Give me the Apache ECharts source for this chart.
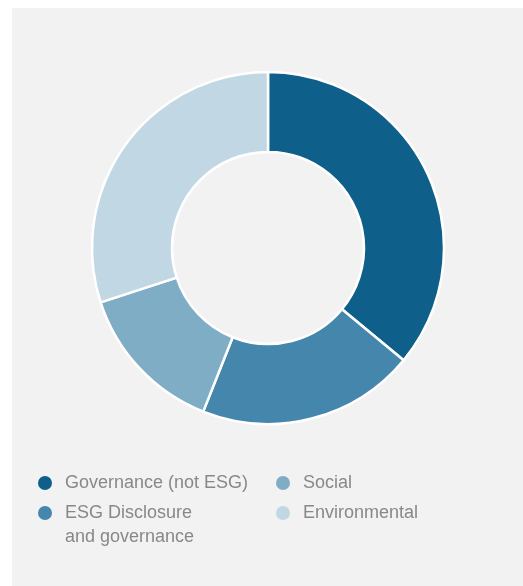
<!DOCTYPE html>
<html>
<head>
<meta charset="utf-8">
<script src="https://cdn.jsdelivr.net/npm/echarts@6/dist/echarts.min.js"></script>
<style>
  html, body { margin: 0; padding: 0; background: #ffffff; }
  #wrap { position: relative; width: 523px; height: 586px; overflow: hidden; }
  #panel { position: absolute; left: 12px; top: 8px; right: 0; bottom: 0; background: #f2f2f2; }
  #chart { position: absolute; left: 0; top: 0; width: 523px; height: 586px; }
</style>
</head>
<body>
<div id="wrap">
  <div id="panel"></div>
  <div id="chart"></div>
</div>
<script>
// Share of proposals by topic (percent)
const categories = [
  'Governance (not ESG)',
  'ESG Disclosure and governance',
  'Social',
  'Environmental'
];
const values = [36, 20, 14, 30];
const colors = ['#0f5f8b', '#4587ac', '#80adc6', '#c1d8e4'];

// Wrapped legend text; the leading blank line keeps the first text line level with the dot
const legendLabels = {
  'ESG Disclosure and governance': '\nESG Disclosure\nand governance'
};

const textColor = '#888888';
const fontFamily = '"Liberation Sans", Arial, Helvetica, sans-serif';
const fontSize = 18;
const lineH = 24;

function legendFor(name, left, dotY, lines) {
  return {
    data: [name],
    left: left,
    top: dotY - lineH * lines / 2,
    orient: 'vertical',
    padding: 0,
    itemWidth: 14,
    itemHeight: 14,
    icon: 'circle',
    selectedMode: false,
    itemStyle: { borderWidth: 0 },
    formatter: n => legendLabels[n] || n,
    textStyle: {
      color: textColor,
      fontFamily: fontFamily,
      fontSize: fontSize,
      lineHeight: lineH,
      padding: [0, 0, 0, 8]
    }
  };
}

const chart = echarts.init(document.getElementById('chart'), null, { renderer: 'canvas' });
chart.setOption({
  backgroundColor: 'transparent',
  animation: false,
  color: colors,
  legend: [
    legendFor(categories[0], 38, 483, 1),
    legendFor(categories[1], 38, 513, 3),
    legendFor(categories[2], 276, 483, 1),
    legendFor(categories[3], 276, 513, 1)
  ],
  series: [{
    type: 'pie',
    center: [268, 248],
    radius: [96, 176],
    startAngle: 90,
    clockwise: true,
    avoidLabelOverlap: false,
    label: { show: false },
    labelLine: { show: false },
    emphasis: { disabled: true },
    itemStyle: { borderColor: '#ffffff', borderWidth: 2.5 },
    data: categories.map((c, i) => ({ name: c, value: values[i] }))
  }]
});
</script>
</body>
</html>
